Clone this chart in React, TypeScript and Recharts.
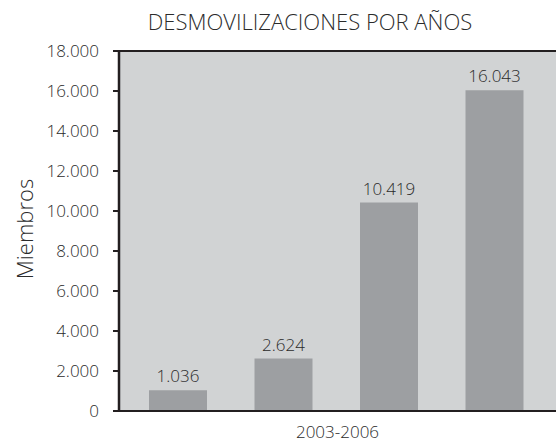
import { BarChart, Bar, XAxis, YAxis, CartesianGrid, ReferenceLine, LabelList } from "recharts";

const years = ["2003", "2004", "2005", "2006"];
const members = [1036, 2624, 10419, 16043];
const yTicks = [0, 2000, 4000, 6000, 8000, 10000, 12000, 14000, 16000, 18000];

const data = years.map((year, i) => ({ year, value: members[i] }));

const FONT = "'Open Sans', sans-serif";
const WEIGHT = 300;
const TEXT = "#2b2b2b";
const AXIS = "#231f20";

// 16043 -> "16.043"
const fmt = (n: number) => String(n).replace(/\B(?=(\d{3})+(?!\d))/g, ".");

function YLabel(props: any) {
  const vb = props.viewBox || {};
  const cx = 33;
  const cy = vb.y + vb.height / 2 - 2;
  return (
    <text
      x={cx}
      y={cy}
      transform={`rotate(-90 ${cx} ${cy})`}
      textAnchor="middle"
      fill={TEXT}
      fontSize={22}
      fontWeight={WEIGHT}
      fontFamily={FONT}
    >
      Miembros
    </text>
  );
}

export default function App() {
  return (
    <div style={{ position: "fixed", left: 0, top: 0, width: 556, height: 442, overflow: "hidden", background: "#fff" }}>
      <div
        style={{
          position: "absolute",
          top: 10,
          left: 110,
          width: 400,
          textAlign: "center",
          fontFamily: FONT,
          fontWeight: WEIGHT,
          fontSize: 22,
          lineHeight: "22px",
          color: TEXT,
        }}
      >
        DESMOVILIZACIONES POR AÑOS
      </div>
      <BarChart
        width={556}
        height={442}
        data={data}
        margin={{ top: 51, right: 0, bottom: 0, left: 0 }}
        barSize={58}
      >
        <CartesianGrid fill="#d1d3d4" stroke="none" horizontal={false} vertical={false} />
        <XAxis
          dataKey="year"
          height={31}
          tick={false}
          tickLine={false}
          axisLine={{ stroke: AXIS, strokeWidth: 2 }}
          padding={{ left: 6, right: 9 }}
          label={{ value: "2003-2006", position: "insideBottom", offset: 4, fill: TEXT, fontSize: 17, fontWeight: WEIGHT, fontFamily: FONT }}
        />
        <YAxis
          width={119}
          domain={[0, 18000]}
          ticks={yTicks}
          interval={0}
          tickFormatter={fmt}
          tickSize={6}
          tickMargin={14}
          tick={{ fill: TEXT, fontSize: 17, fontWeight: WEIGHT, fontFamily: FONT }}
          tickLine={{ stroke: AXIS, strokeWidth: 2 }}
          axisLine={{ stroke: AXIS, strokeWidth: 2.5 }}
          label={<YLabel />}
        />
        <ReferenceLine y={18000} stroke={AXIS} strokeWidth={2} ifOverflow="visible" />
        <Bar dataKey="value" fill="#9d9fa2" isAnimationActive={false}>
          <LabelList
            dataKey="value"
            position="top"
            offset={8}
            formatter={(v: any) => fmt(Number(v))}
            fill={TEXT}
            fontSize={17}
            fontWeight={WEIGHT}
            fontFamily={FONT}
          />
        </Bar>
      </BarChart>
    </div>
  );
}
